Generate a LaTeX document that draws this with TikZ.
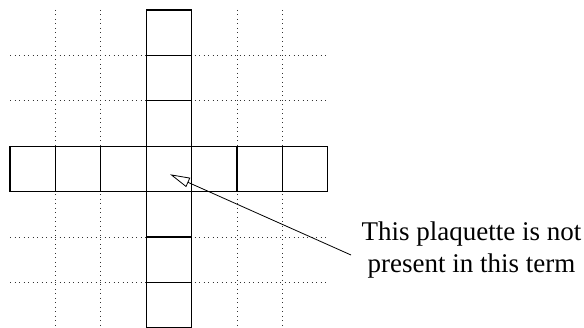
\documentclass[tikz,border=0pt]{standalone}
\usepackage{fontspec}
\setmainfont{Liberation Serif}
\usetikzlibrary{arrows.meta}
\begin{document}
\begin{tikzpicture}[x=1pt,y=-1pt,
  cellline/.style={line width=1.1pt, black},
  gridline/.style={line width=0.9pt, black!80, dash pattern=on 0.9pt off 3.6pt},
  label/.style={align=center, font=\fontsize{27}{32}\selectfont, inner sep=0pt},
  pointer/.style={line width=0.8pt, -{Triangle[open, length=20pt, width=10pt, line width=0.8pt]}}]
\useasboundingbox (0,0) rectangle (584,328);
\def\c{45.4}
% dotted grid lines
\foreach \k in {1,2,5,6} {
  \draw[gridline] (10,{10+\k*\c}) -- (328,{10+\k*\c});
  \draw[gridline] ({10+\k*\c},10) -- ({10+\k*\c},328);
}
% cross of plaquettes
\foreach \k in {0,...,6} {
  \draw[cellline, fill=white] ({10+3*\c},{10+\k*\c}) rectangle ++(\c,\c);
  \draw[cellline, fill=white] ({10+\k*\c},{10+3*\c}) rectangle ++(\c,\c);
}
\node[label] (txt) at (471.5,250.5) {This plaquette is not\\present in this term};
\coordinate (start) at (351,255);
\coordinate (tip) at (170,174.3);
\draw[pointer] (start) -- (tip);
\end{tikzpicture}
\end{document}
